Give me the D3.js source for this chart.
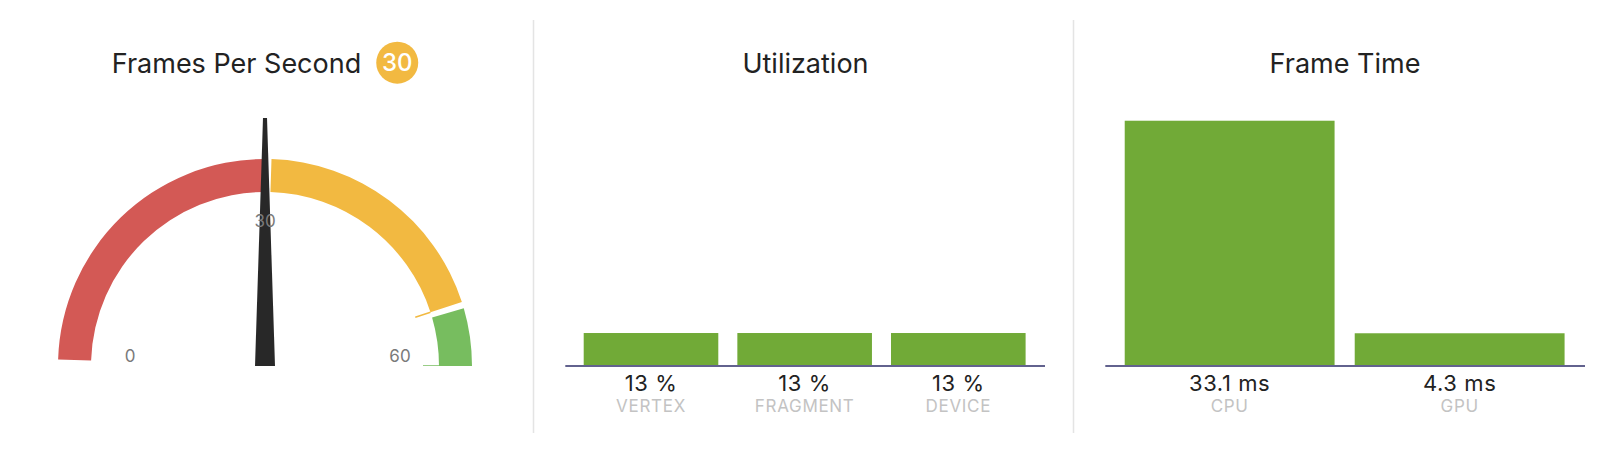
<!DOCTYPE html>
<html><head><meta charset="utf-8">
<script src="https://cdn.jsdelivr.net/npm/d3@7"></script>
<style>
html,body{margin:0;padding:0;background:#fff;}
svg{display:block;font-family:Inter,"Noto Sans",sans-serif;}
</style></head><body>
<svg id="chart" width="1602" height="452"></svg>
<script>
// ---- data ----
const fpsTitle = "Frames Per Second";
const fpsValue = 30;
const fpsDomain = [0, 60];
const fpsLabels = [0, 30, 60];
const zoneBreaks = [0, 30, 54, 60];
const zoneColors = ["#d35955", "#f2b941", "#77bd5f"];

const utilTitle = "Utilization";
const utilCategories = ["VERTEX", "FRAGMENT", "DEVICE"];
const utilValues = [13, 13, 13];
const utilDomain = [0, 100];

const frameTitle = "Frame Time";
const frameCategories = ["CPU", "GPU"];
const frameValues = [33.1, 4.3];
const frameDomain = [0, 1000 / 30];

// ---- drawing ----
const svg = d3.select("#chart");
const TITLE_Y = 73.3;
const TITLE_SIZE = 27;

[533.5, 1073.5].forEach(x => {
  svg.append("line").attr("x1", x).attr("x2", x).attr("y1", 20).attr("y2", 433)
    .attr("stroke", "#e4e4e4").attr("stroke-width", 1.5);
});

// ---- gauge ----
const cx = 265, cy = 366, rOuter = 207, rInner = 174;
const g = svg.append("g").attr("transform", `translate(${cx},${cy})`);
g.append("clipPath").attr("id", "gclip").append("rect")
  .attr("x", -300).attr("y", -300).attr("width", 600).attr("height", 300);
const gg = g.append("g").attr("clip-path", "url(#gclip)");
const angle = d3.scaleLinear().domain(fpsDomain).range([-Math.PI / 2, Math.PI / 2]);
const gap = 1.8 * Math.PI / 180;
const arc = d3.arc().innerRadius(rInner).outerRadius(rOuter);
const zones = d3.range(zoneBreaks.length - 1).map(i => ({
  from: zoneBreaks[i], to: zoneBreaks[i + 1], color: zoneColors[i]
}));
gg.selectAll("path.zone").data(zones).join("path").attr("class", "zone")
  .attr("d", d => arc({ startAngle: angle(d.from) + gap, endAngle: angle(d.to) }))
  .attr("fill", d => d.color);
gg.selectAll("line.tick").data(zones).join("line").attr("class", "tick")
  .attr("x1", d => 158 * Math.sin(angle(d.to))).attr("y1", d => -158 * Math.cos(angle(d.to)))
  .attr("x2", d => rInner * Math.sin(angle(d.to))).attr("y2", d => -rInner * Math.cos(angle(d.to)))
  .attr("stroke", d => d.color).attr("stroke-width", 1.5);
gg.append("path")
  .attr("d", "M-2,-248L2,-248L10,0L-10,0Z")
  .attr("transform", `rotate(${angle(fpsValue) * 180 / Math.PI})`)
  .attr("fill", "#282828");
g.selectAll("text.glabel").data(fpsLabels).join("text").attr("class", "glabel")
  .attr("x", d => 135 * Math.sin(angle(d)))
  .attr("y", d => -135 * Math.cos(angle(d)) - 4.3)
  .attr("text-anchor", "middle").attr("font-size", 17).attr("fill", "#7a7a7a")
  .text(d => d);

// title + badge
const tTitle = svg.append("text").attr("y", TITLE_Y).attr("font-size", TITLE_SIZE)
  .attr("fill", "#222").text(fpsTitle);
const tw = tTitle.node().getComputedTextLength();
const badgeR = 21, badgeGap = 15;
const x0 = cx - (tw + badgeGap + 2 * badgeR) / 2;
tTitle.attr("x", x0);
const bx = x0 + tw + badgeGap + badgeR;
svg.append("circle").attr("cx", bx).attr("cy", 62.7).attr("r", badgeR).attr("fill", zoneColors[1]);
svg.append("text").attr("x", bx).attr("y", 62.7).attr("dy", "0.36em")
  .attr("text-anchor", "middle").attr("font-size", 24).attr("font-weight", 500)
  .attr("fill", "#fff").text(fpsValue);

// ---- bar charts ----
function barChart(opts) {
  const { title, titleX, cats, vals, domain, range, padInner, padOuter, fmt } = opts;
  const baseY = 365, topY = 119;
  const x = d3.scaleBand().domain(cats).range(range).paddingInner(padInner).paddingOuter(padOuter);
  const y = d3.scaleLinear().domain(domain).range([baseY, topY]);
  svg.append("text").attr("x", titleX).attr("y", TITLE_Y).attr("text-anchor", "middle")
    .attr("font-size", TITLE_SIZE).attr("fill", "#222").text(title);
  svg.append("g").selectAll("rect").data(cats).join("rect")
    .attr("x", d => x(d)).attr("width", x.bandwidth())
    .attr("y", (d, i) => y(vals[i])).attr("height", (d, i) => baseY - y(vals[i]))
    .attr("fill", "#71aa37");
  const ax = svg.append("g").attr("transform", `translate(0,${baseY + 0.5})`)
    .call(d3.axisBottom(x).tickSize(0).tickSizeOuter(0)
      .tickFormat(d => fmt(vals[cats.indexOf(d)])));
  ax.attr("font-family", null).attr("font-size", null);
  ax.select(".domain").attr("stroke", "#62628e").attr("stroke-width", 2);
  ax.selectAll(".tick text").attr("y", 25).attr("dy", null)
    .attr("font-size", 22).attr("letter-spacing", 0.6).attr("fill", "#222");
  ax.selectAll(".tick").append("text").attr("y", 46).attr("text-anchor", "middle")
    .attr("font-size", 17).attr("letter-spacing", 0.7).attr("fill", "#c3c3c3").text(d => d);
}

barChart({
  title: utilTitle, titleX: 805.5, cats: utilCategories, vals: utilValues, domain: utilDomain,
  range: [564.8, 1044.5], padInner: 0.124, padOuter: 0.123, fmt: v => `${v} %`
});
barChart({
  title: frameTitle, titleX: 1345, cats: frameCategories, vals: frameValues, domain: frameDomain,
  range: [1104.8, 1584.5], padInner: 0.0876, padOuter: 0.0866, fmt: v => `${v.toFixed(1)} ms`
});
</script>
</body></html>
